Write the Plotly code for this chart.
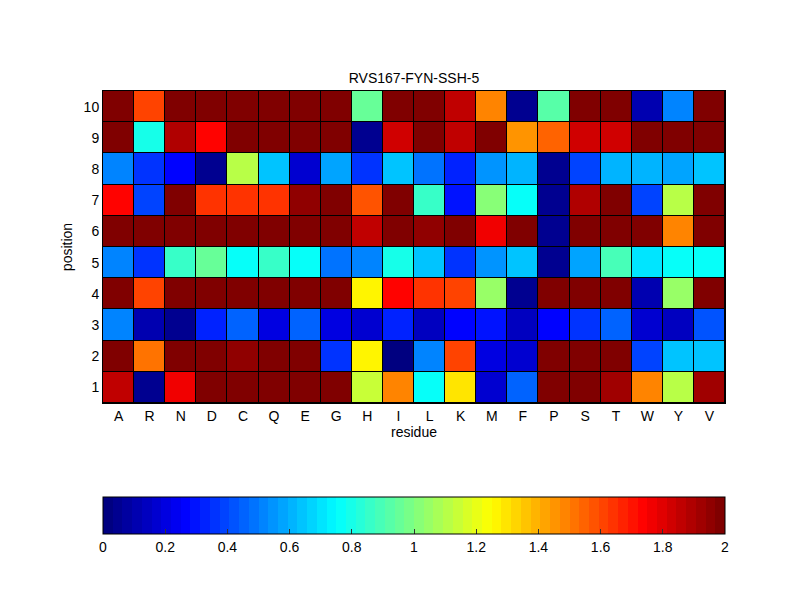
import plotly.graph_objects as go

residues = ["A", "R", "N", "D", "C", "Q", "E", "G", "H", "I",
            "L", "K", "M", "F", "P", "S", "T", "W", "Y", "V"]
positions = [1, 2, 3, 4, 5, 6, 7, 8, 9, 10]

pos1 = [1.87, 0.05, 1.75, 2.0, 2.0, 2.0, 2.0, 2.0, 1.15, 1.47,
        0.75, 1.30, 0.18, 0.45, 2.0, 2.0, 1.93, 1.47, 1.10, 1.93]
pos2 = [2.0, 1.52, 2.0, 2.0, 1.95, 2.0, 2.0, 0.35, 1.28, 0.02,
        0.50, 1.62, 0.20, 0.18, 2.0, 2.0, 2.0, 0.40, 0.65, 0.63]
pos3 = [0.53, 0.12, 0.05, 0.33, 0.45, 0.20, 0.45, 0.20, 0.18, 0.33,
        0.15, 0.27, 0.30, 0.15, 0.27, 0.35, 0.45, 0.18, 0.15, 0.42]
pos4 = [2.0, 1.62, 2.0, 2.0, 2.0, 2.0, 2.0, 2.0, 1.25, 1.72,
        1.65, 1.60, 1.05, 0.05, 2.0, 2.0, 2.0, 0.12, 1.05, 2.0]
pos5 = [0.53, 0.37, 0.87, 0.95, 0.75, 0.85, 0.75, 0.48, 0.53, 0.80,
        0.65, 0.37, 0.55, 0.63, 0.05, 0.58, 0.90, 0.70, 0.75, 0.75]
pos6 = [2.0, 2.0, 2.0, 2.0, 2.0, 2.0, 2.0, 2.0, 1.87, 2.0,
        1.95, 2.0, 1.75, 2.0, 0.05, 2.0, 2.0, 2.0, 1.47, 2.0]
pos7 = [1.72, 0.40, 1.97, 1.65, 1.65, 1.65, 1.95, 2.0, 1.58, 2.0,
        0.85, 0.30, 1.00, 0.78, 0.05, 1.90, 2.0, 0.40, 1.10, 2.0]
pos8 = [0.50, 0.35, 0.25, 0.05, 1.10, 0.65, 0.18, 0.58, 0.35, 0.63,
        0.48, 0.33, 0.55, 0.60, 0.05, 0.40, 0.61, 0.61, 0.58, 0.64]
pos9 = [2.0, 0.80, 1.90, 1.72, 2.0, 2.0, 2.0, 2.0, 0.05, 1.82,
        2.0, 1.87, 1.97, 1.45, 1.55, 1.83, 1.83, 2.0, 2.0, 2.0]
pos10 = [2.0, 1.62, 2.0, 2.0, 2.0, 2.0, 2.0, 2.0, 0.95, 2.0,
         2.0, 1.85, 1.47, 0.05, 0.92, 2.0, 2.0, 0.10, 0.53, 2.0]

cbar_ticks = [0, 0.2, 0.4, 0.6, 0.8, 1, 1.2, 1.4, 1.6, 1.8, 2]
cbar_labels = ["0", "0.2", "0.4", "0.6", "0.8", "1", "1.2", "1.4", "1.6", "1.8", "2"]

z = [pos1, pos2, pos3, pos4, pos5, pos6, pos7, pos8, pos9, pos10]


def jet(t):
    def c(v):
        return max(0.0, min(1.0, v))
    r = c(1.5 - abs(4 * t - 3))
    g = c(1.5 - abs(4 * t - 2))
    b = c(1.5 - abs(4 * t - 1))
    return "rgb(%d,%d,%d)" % (round(r * 255), round(g * 255), round(b * 255))


N = 64
colorscale = []
for i in range(N):
    col = jet(i / (N - 1))
    colorscale.append([i / N, col])
    colorscale.append([(i + 1) / N, col])

font = "Liberation Sans, Arial, Helvetica, sans-serif"
fs = 14

fig = go.Figure(go.Heatmap(
    z=z, x=residues, y=positions,
    zmin=0, zmax=2, colorscale=colorscale,
    xgap=1, ygap=1,
    colorbar=dict(
        orientation="h", x=0.5, xanchor="center", y=-0.301, yanchor="top",
        len=1.0, lenmode="fraction", thickness=37, thicknessmode="pixels",
        xpad=0, ypad=0, outlinecolor="black", outlinewidth=1,
        tickvals=cbar_ticks, ticktext=cbar_labels,
        ticks="inside", ticklen=5, tickcolor="#333",
        tickfont=dict(family=font, size=fs, color="black"),
    ),
))

fig.update_layout(
    width=800, height=600,
    margin=dict(l=95, r=83, t=83, b=205, autoexpand=False),
    paper_bgcolor="white", plot_bgcolor="black",
    font=dict(family=font, size=fs, color="black"),
    title=dict(text="RVS167-FYN-SSH-5", x=0.5, xanchor="center", xref="paper",
               y=1.0, yref="paper", yanchor="bottom", pad=dict(b=8),
               font=dict(family=font, size=fs, color="black")),
    xaxis=dict(title=dict(text="residue", standoff=3, font=dict(size=fs)),
               type="category", automargin=False,
               showline=True, linecolor="black", linewidth=1, mirror=True,
               ticks="", showgrid=False, zeroline=False,
               tickfont=dict(size=fs)),
    yaxis=dict(title=dict(text="position", standoff=7, font=dict(size=fs)),
               tickvals=positions, automargin=False,
               range=[0.5, 10.5],
               showline=True, linecolor="black", linewidth=1, mirror=True,
               ticks="", showgrid=False, zeroline=False,
               tickfont=dict(size=fs)),
)

fig.write_html("out.html")
